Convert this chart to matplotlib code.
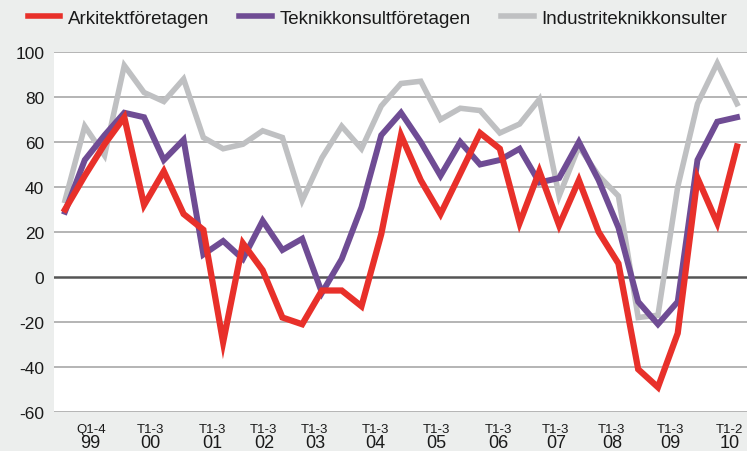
import matplotlib.pyplot as plt
import numpy as np

plt.rcParams['font.family'] = ['Liberation Sans Narrow', 'Liberation Sans', 'DejaVu Sans']

# Barometer values, one point per period (1999 .. 2010 T2)
arkitekt = [30, 45, 59, 71, 32, 47, 28, 21, -29, 15, 3, -18, -21, -6, -6, -13, 19, 63,
            43, 28, 46, 64, 57, 24, 47, 23, 43, 20, 6, -41, -49, -25, 44, 24, 58]
teknik = [29, 52, 63, 73, 71, 52, 61, 10, 16, 8, 25, 12, 17, -7, 8, 31, 63, 73,
          60, 45, 60, 50, 52, 57, 42, 44, 60, 43, 22, -11, -21, -11, 52, 69, 71]
industri = [34, 67, 54, 94, 82, 78, 88, 62, 57, 59, 65, 62, 34, 53, 67, 57, 76, 86,
            87, 70, 75, 74, 64, 68, 79, 36, 58, 45, 36, -18, -17, 40, 77, 95, 77]

series_names = ['Arkitektföretagen', 'Teknikkonsultföretagen', 'Industriteknikkonsulter']
period_labels = ['Q1-4', 'T1-3', 'T1-3', 'T1-3', 'T1-3', 'T1-3', 'T1-3', 'T1-3',
                 'T1-3', 'T1-3', 'T1-3', 'T1-2']
year_labels = ['99', '00', '01', '02', '03', '04', '05', '06', '07', '08', '09', '10']
label_pos = [1.3, 4.32, 7.45, 10.06, 12.64, 15.72, 18.81, 21.91, 24.83, 27.67, 30.64, 33.61]
yticks = [-60, -40, -20, 0, 20, 40, 60, 80, 100]

red = '#e8302a'
purple = '#6f4c94'
grey = '#bfc0c2'
bg = '#eceeed'

x = np.arange(len(arkitekt))

fig = plt.figure(figsize=(7.47, 4.52), dpi=100, facecolor=bg)
ax = fig.add_axes([54 / 747, 39 / 452, 693 / 747, 360 / 452])
ax.set_facecolor('white')

for v in yticks:
    if v == 0:
        ax.axhline(v, color='#555555', lw=1.8, zorder=1)
    else:
        ax.axhline(v, color='#a8a8a8', lw=1.2, zorder=1)

l3, = ax.plot(x, industri, color=grey, lw=4.0, solid_joinstyle='miter', zorder=2)
l2, = ax.plot(x, teknik, color=purple, lw=4.3, solid_joinstyle='miter', zorder=3)
l1, = ax.plot(x, arkitekt, color=red, lw=4.5, solid_joinstyle='miter', zorder=4)

ax.set_xlim(-0.557, 34.506)
ax.set_ylim(-60, 100)
ax.set_yticks(yticks)
ax.set_yticklabels([str(v) for v in yticks], fontsize=12.5, color='#1a1a1a')
ax.tick_params(axis='y', length=0, pad=7)
ax.set_xticks([])
for s in ax.spines.values():
    s.set_visible(False)

trans = ax.get_xaxis_transform()
for p, per, yr in zip(label_pos, period_labels, year_labels):
    ax.text(p, -0.048, per, transform=trans, ha='center', va='center',
            fontsize=9.5, color='#1a1a1a', clip_on=False)
    ax.text(p, -0.084, yr, transform=trans, ha='center', va='center',
            fontsize=13, color='#1a1a1a', clip_on=False)

leg = fig.legend([l1, l2, l3], series_names, loc='center left',
                 bbox_to_anchor=(20 / 747, 1 - 19 / 452), ncol=3, frameon=False,
                 fontsize=13.5, handlelength=1.75, handletextpad=0.4,
                 columnspacing=1.6, borderaxespad=0)
for h in leg.legend_handles:
    h.set_linewidth(4.0)
for t in leg.get_texts():
    t.set_color('#1a1a1a')

fig.savefig('out.png', dpi=100, facecolor=bg)
